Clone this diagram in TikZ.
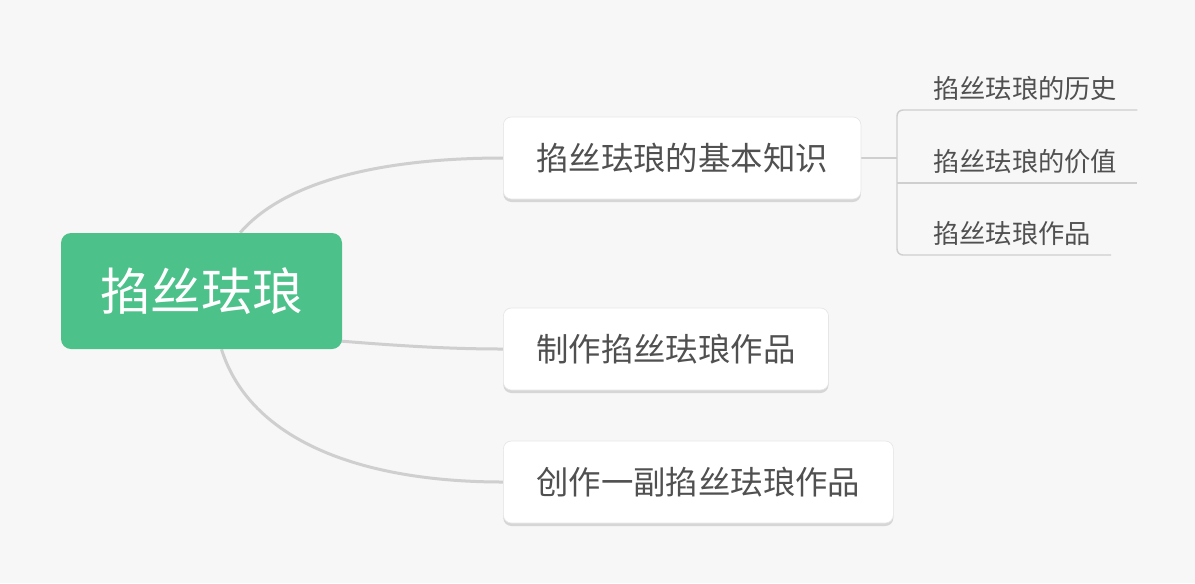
\documentclass[tikz,border=0pt]{standalone}
\usepackage{fontspec}
\setmainfont{Noto Sans CJK SC}
\usetikzlibrary{backgrounds,shadows}

\definecolor{bgcol}{HTML}{F7F7F7}
\definecolor{rootgreen}{HTML}{4DC18A}
\definecolor{linegray}{HTML}{CFCFCF}
\definecolor{boxedge}{HTML}{E6E6E6}
\definecolor{txtgray}{HTML}{505050}

\tikzset{
  rootbox/.style={fill=rootgreen, rounded corners=7.5pt, text=white,
    minimum width=210.75pt, minimum height=87pt,
    font=\fontsize{38}{42}\selectfont},
  topicbox/.style={fill=white, draw=boxedge, line width=0.5pt,
    rounded corners=6pt, anchor=west, inner xsep=24.75pt,
    minimum height=61.5pt, text=txtgray,
    font=\fontsize{24.3}{28}\selectfont,
    drop shadow={shadow xshift=0pt, shadow yshift=-2.25pt,
      fill=black!16, opacity=1}},
  leaf/.style={anchor=south west, inner xsep=0pt, inner ysep=7pt,
    text=txtgray, font=\fontsize{19.7}{22}\selectfont},
  branch/.style={draw=linegray, line width=2.25pt},
  twig/.style={draw=linegray, line width=1.1pt, rounded corners=4.5pt},
}

\begin{document}
\begin{tikzpicture}[x=0.75pt, y=-0.75pt]
\useasboundingbox (0,0) rectangle (1195,583);

\node [rootbox]  (root) at (201.5, 291) {掐丝珐琅};
\node [topicbox] (k1)   at (503, 158)   {掐丝珐琅的基本知识};
\node [topicbox] (k2)   at (503, 349)   {制作掐丝珐琅作品};
\node [topicbox] (k3)   at (503, 482)   {创作一副掐丝珐琅作品};

\node [leaf] (h1) at (933, 110) {掐丝珐琅的历史};
\node [leaf] (h2) at (933, 183) {掐丝珐琅的价值};
\node [leaf] (h3) at (933, 255) {掐丝珐琅作品};
\coordinate (jc) at (897, 158);

\begin{scope}[on background layer]
\fill [bgcol] (0,0) rectangle (1195,583);
\draw [branch] ([xshift=29pt]root.north)
    .. controls (290,175) and (400,158) .. (k1.west);
\draw [branch] ([xshift=-8pt,yshift=-37pt]root.east)
    .. controls (400,346) and (450,349) .. (k2.west);
\draw [branch] ([xshift=15pt]root.south)
    .. controls (250,440) and (360,482) .. (k3.west);

\draw [twig] (k1.east) -- (jc);
\draw [twig] ([xshift=15pt]h1.south east) -| (jc)
    |- ([xshift=15pt]h3.south east);
\draw [twig] (jc |- h2.south) -- ([xshift=15pt]h2.south east);
\end{scope}
\end{tikzpicture}
\end{document}
